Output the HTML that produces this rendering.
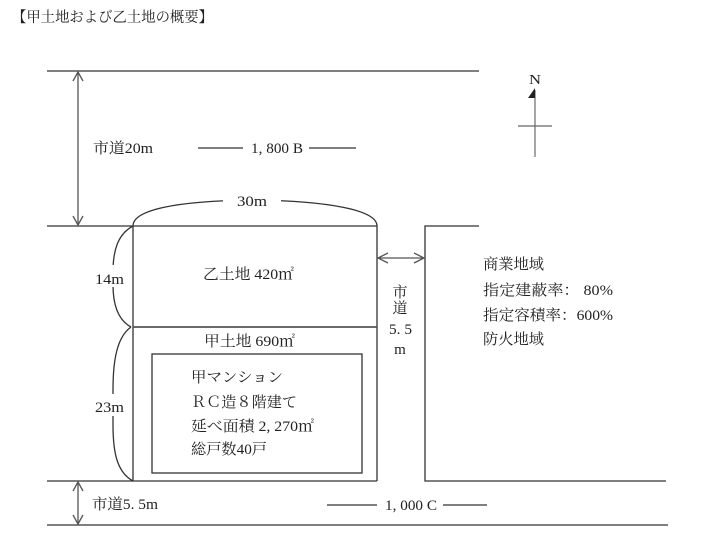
<!DOCTYPE html>
<html><head><meta charset="utf-8">
<style>
html,body{margin:0;padding:0;background:#fff;}
svg{display:block;}
text{font-family:"Liberation Serif","Noto Serif CJK SC",serif;fill:#222;}
</style></head>
<body>
<svg width="709" height="541" viewBox="0 0 709 541" xmlns="http://www.w3.org/2000/svg">
<g stroke="#333" stroke-width="1.3" fill="none">
  <!-- road lines -->
  <line x1="47" y1="71" x2="479" y2="71"/>
  <line x1="47" y1="226" x2="377" y2="226"/>
  <line x1="47" y1="481" x2="377" y2="481"/>
  <line x1="47" y1="525" x2="668" y2="525"/>
  <!-- lot -->
  <line x1="133" y1="226" x2="133" y2="481"/>
  <line x1="377" y1="226" x2="377" y2="481"/>
  <line x1="133" y1="327" x2="377" y2="327" stroke="#555" stroke-width="1.8"/>
  <!-- building -->
  <rect x="152" y="354" width="210" height="119"/>
  <!-- right lot -->
  <polyline points="479,226 425,226 425,481 666,481"/>
  <!-- top arc -->
  <path d="M133,226 C133,210 175,201 252,200 C329,201 377,210 377,226"/>
  <!-- braces -->
  <path d="M133,226 C118,234 113,250 113,272 L113,285 C113,305 118,320 131,327"/>
  <path d="M131,327 C117,337 113,360 113,390 L113,425 C113,455 118,473 133,481"/>
  <!-- dimension arrows -->
  <line x1="78" y1="72" x2="78" y2="225" stroke="#555"/>
  <polyline points="73,81 78,72 83,81" stroke="#555"/>
  <polyline points="73,216 78,225 83,216" stroke="#555"/>
  <line x1="78" y1="482" x2="78" y2="524" stroke="#555"/>
  <polyline points="73,491 78,482 83,491" stroke="#555"/>
  <polyline points="73,515 78,524 83,515" stroke="#555"/>
  <line x1="378" y1="258" x2="424" y2="258" stroke="#555"/>
  <polyline points="388,253 378,258 388,263" stroke="#555"/>
  <polyline points="414,253 424,258 414,263" stroke="#555"/>
  <!-- label dashes -->
  <line x1="198" y1="148" x2="243" y2="148"/>
  <line x1="309" y1="148" x2="356" y2="148"/>
  <line x1="327" y1="505" x2="377" y2="505"/>
  <line x1="443" y1="505" x2="487" y2="505"/>
  <!-- north arrow -->
  <line x1="535" y1="90" x2="535" y2="157" stroke="#888" stroke-width="1.5"/>
  <line x1="518" y1="126" x2="552" y2="126" stroke="#666"/>
</g>
<polygon points="528,98 535,88 535,98" fill="#222"/>
<!-- white gaps for labels -->
<rect x="223" y="193" width="58" height="16" fill="#fff"/>
<rect x="95" y="265" width="30" height="22" fill="#fff"/>
<rect x="95" y="394" width="30" height="22" fill="#fff"/>

<text x="12" y="22" font-size="14.5" textLength="201" lengthAdjust="spacingAndGlyphs">【甲土地および乙土地の概要】</text>
<text x="529" y="84" font-size="14" textLength="12" lengthAdjust="spacingAndGlyphs">N</text>

<text x="93" y="153" font-size="15" textLength="60" lengthAdjust="spacingAndGlyphs">市道20m</text>
<text x="251" y="153" font-size="15" textLength="52" lengthAdjust="spacingAndGlyphs">1, 800 B</text>
<text x="237" y="206" font-size="15" textLength="30" lengthAdjust="spacingAndGlyphs">30m</text>
<text x="95" y="284" font-size="15" textLength="29" lengthAdjust="spacingAndGlyphs">14m</text>
<text x="95" y="412" font-size="15" textLength="29" lengthAdjust="spacingAndGlyphs">23m</text>

<text x="203" y="279" font-size="15" textLength="91" lengthAdjust="spacingAndGlyphs">乙土地 420㎡</text>
<text x="204" y="346" font-size="15" textLength="91" lengthAdjust="spacingAndGlyphs">甲土地 690㎡</text>

<text x="400" y="297" font-size="15" text-anchor="middle">市</text>
<text x="400" y="313" font-size="15" text-anchor="middle">道</text>
<text x="389" y="334" font-size="15" textLength="23" lengthAdjust="spacingAndGlyphs">5. 5</text>
<text x="400" y="354" font-size="15" text-anchor="middle">m</text>

<text x="191" y="382" font-size="15" textLength="92" lengthAdjust="spacingAndGlyphs">甲マンション</text>
<text x="191" y="407" font-size="15" textLength="106" lengthAdjust="spacingAndGlyphs">ＲＣ造８階建て</text>
<text x="191" y="431" font-size="15" textLength="123" lengthAdjust="spacingAndGlyphs">延べ面積 2, 270㎡</text>
<text x="191" y="454" font-size="15" textLength="76" lengthAdjust="spacingAndGlyphs">総戸数40戸</text>

<text x="483" y="269" font-size="15" textLength="61" lengthAdjust="spacingAndGlyphs">商業地域</text>
<text x="483" y="295" font-size="15" textLength="130" lengthAdjust="spacingAndGlyphs">指定建蔽率：  80%</text>
<text x="483" y="320" font-size="15" textLength="130" lengthAdjust="spacingAndGlyphs">指定容積率：600%</text>
<text x="483" y="344" font-size="15" textLength="61" lengthAdjust="spacingAndGlyphs">防火地域</text>

<text x="92" y="509" font-size="15" textLength="66" lengthAdjust="spacingAndGlyphs">市道5. 5m</text>
<text x="385" y="510" font-size="15" textLength="52" lengthAdjust="spacingAndGlyphs">1, 000 C</text>
</svg>
</body></html>
